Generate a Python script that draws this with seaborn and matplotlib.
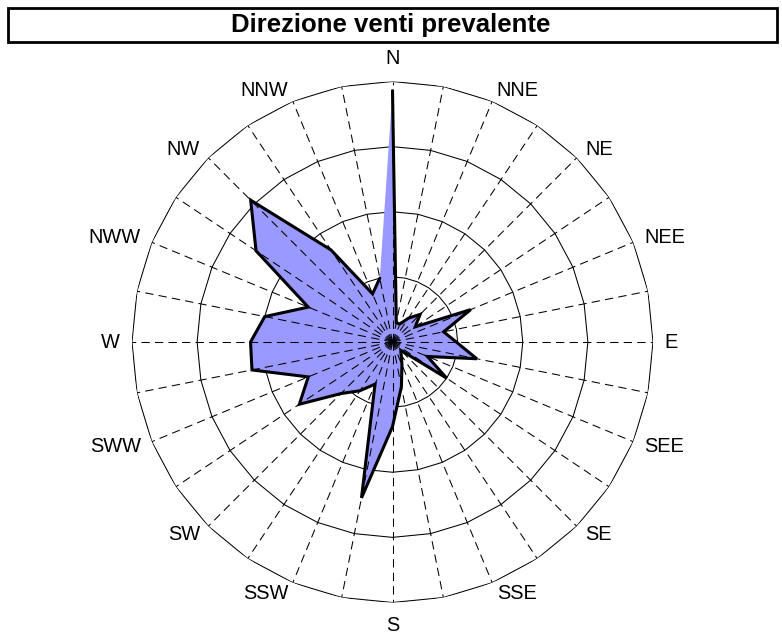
import numpy as np
import matplotlib.pyplot as plt
import seaborn as sns
from matplotlib.patches import Rectangle

# 32 settori (gradi da N, senso orario)
settori = np.arange(32) * 11.25
frequenze = [19.3, 1.5, 1.5, 2.2, 3.0, 2.1, 6.5, 4.0, 4.9, 6.6, 2.9, 5.0,
             0.9, 1.2, 1.9, 3.5, 6.5, 12.2, 3.5, 4.5, 5.6, 8.6, 7.0, 11.0,
             10.9, 10.0, 7.0, 12.6, 15.4, 8.5, 4.0, 5.0]
etichette = ['N', 'NNE', 'NE', 'NEE', 'E', 'SEE', 'SE', 'SSE',
             'S', 'SSW', 'SW', 'SWW', 'W', 'NWW', 'NW', 'NNW']
anelli = [5, 10, 15, 20]
rmax = 20

sns.set_style('white')
plt.rcParams['font.family'] = ['Liberation Sans', 'DejaVu Sans']
plt.rcParams['text.color'] = 'black'

fig = plt.figure(figsize=(7.82, 6.37), dpi=100)
ax = fig.add_axes([132 / 782, 34.5 / 637, 521 / 782, 521 / 637], projection='polar')
ax.set_theta_zero_location('N')
ax.set_theta_direction(-1)
ax.set_ylim(0, rmax)
ax.grid(False)
ax.set_xticks([])
ax.set_yticks([])
ax.spines['polar'].set_visible(False)
ax.patch.set_alpha(0)

theta = np.deg2rad(settori)
theta_c = np.append(theta, theta[0])

# anelli poligonali
for r in anelli:
    ax.plot(theta_c, [r] * len(theta_c), color='black', lw=0.75, zorder=1)

# area dati
vals = np.append(frequenze, frequenze[0])
ax.fill(theta_c, vals, facecolor='#9999FF', edgecolor='none', zorder=2)

# raggi tratteggiati
for t in theta:
    ax.plot([t, t], [0, rmax], color='black', lw=0.75, dashes=(8, 5), zorder=3)

sns.lineplot(x=theta_c, y=vals, sort=False, color='black', lw=2.2, ax=ax,
             zorder=4, solid_joinstyle='miter')
ax.set_xlabel('')
ax.set_ylabel('')

# etichette direzioni
for i, lab in enumerate(etichette):
    a = i * 22.5
    if a in (0, 180):
        ha, rr = 'center', 21.8
    elif a < 180:
        ha, rr = 'left', 20.9
    else:
        ha, rr = 'right', 20.9
    ax.text(np.deg2rad(a), rr, lab, ha=ha, va='center', fontsize=14.4,
            color='black')

# titolo in riquadro
fig.patches.append(Rectangle((8 / 782, 1 - 42 / 637), 769 / 782, 34 / 637,
                             transform=fig.transFigure, fill=False,
                             edgecolor='black', lw=2))
fig.text(0.5, 1 - 25 / 637, 'Direzione venti prevalente', ha='center',
         va='center', fontsize=18.5, fontweight='bold', color='black')

fig.savefig('out.png', dpi=100)
